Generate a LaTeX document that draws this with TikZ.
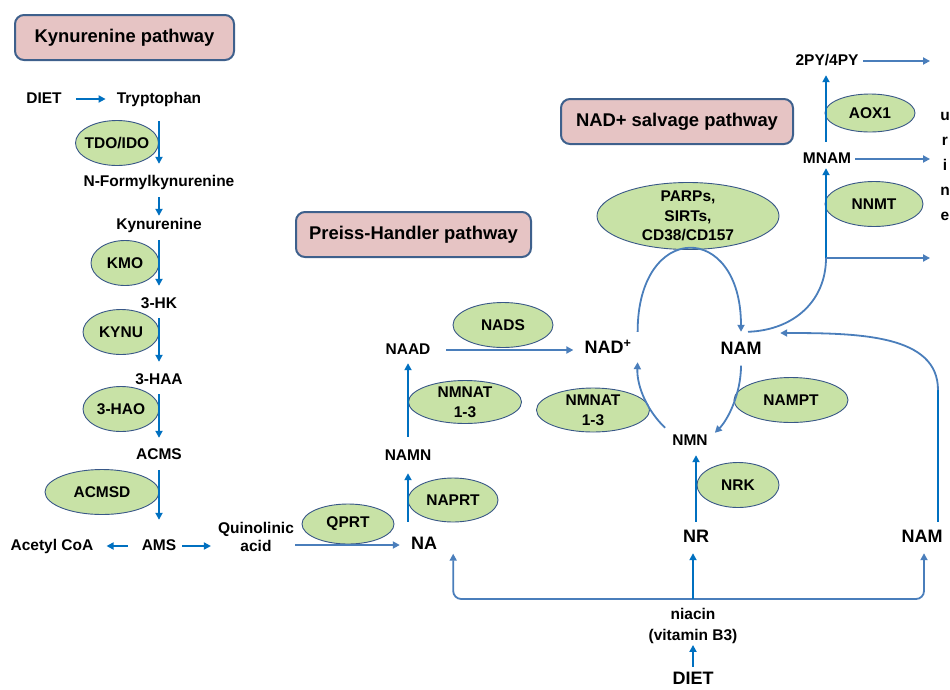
\documentclass[tikz,border=0pt]{standalone}
\usepackage{fontspec}
\setmainfont{Liberation Sans}
\usepackage{tikz}
\usetikzlibrary{shapes.geometric,arrows.meta,calc}
\definecolor{arrblue}{RGB}{0,112,192}
\definecolor{steelblue}{RGB}{74,126,187}
\definecolor{enzfill}{RGB}{200,226,166}
\definecolor{enzline}{RGB}{56,87,135}
\definecolor{boxfill}{RGB}{230,196,196}
\definecolor{boxline}{RGB}{62,96,140}

\tikzset{
  lbl/.style={inner sep=0pt, font=\fontsize{15.5}{19}\selectfont\bfseries, text height=12.5pt, text depth=3.5pt},
  biglbl/.style={inner sep=0pt, font=\fontsize{18}{21}\selectfont\bfseries, text height=13pt, text depth=4pt},
  txt/.style={inner sep=0pt, align=center, font=\fontsize{15.5}{18}\selectfont\bfseries},
  enz/.style={ellipse, draw=enzline, fill=enzfill, line width=0.9pt, inner xsep=-5pt, inner ysep=-3pt,
    align=center, font=\fontsize{15.5}{19.5}\selectfont\bfseries},
  pathbox/.style={draw=boxline, fill=boxfill, line width=2pt, rounded corners=9pt,
    font=\fontsize{18.4}{22}\selectfont\bfseries},
  arr/.style={draw=arrblue, line width=1.8pt, -{Triangle[length=7pt,width=7pt]}},
  sarr/.style={draw=steelblue, line width=1.8pt, -{Triangle[length=7pt,width=7pt]}},
  sline/.style={draw=steelblue, line width=1.8pt},
  bline/.style={draw=arrblue, line width=1.8pt}
}

\begin{document}
\begin{tikzpicture}[x=1pt, y=-1pt]
\useasboundingbox (0,0) rectangle (950,689);

% pathway titles
\node[pathbox, minimum width=219pt, minimum height=45pt] (kyntitle) at (124.5,37.5) {Kynurenine pathway};
\node[pathbox, minimum width=235pt, minimum height=45pt] (phtitle) at (413.5,234.5) {Preiss-Handler pathway};
\node[pathbox, minimum width=232pt, minimum height=45pt] (salvtitle) at (677,121.5) {NAD+ salvage pathway};

% Kynurenine pathway
\node[lbl] (diet1) at (44,99) {DIET};
\foreach \n/\y/\t in {trp/99/Tryptophan, nfk/182/N-Formylkynurenine, kyn/225/Kynurenine,
    hk/304/3-HK, haa/380/3-HAA, acms/455/ACMS, ams/546/AMS}
  \node[lbl] (\n) at (159,\y) {\t};
\node[lbl] (acoa) at (52,546) {Acetyl CoA};
\node[txt] (quin) at (256,537) {Quinolinic\\acid};
\foreach \n/\x/\y/\w/\t in {tdo/117/143/83/{TDO/IDO}, kmo/125/263/68/KMO, kynu/121/332/76/KYNU,
    hao/121/409/76/3-HAO, acmsd/102/492/114/ACMSD}
  \node[enz, minimum width=\w pt, minimum height=45pt] (\n) at (\x,\y) {\t};
\foreach \a/\b/\s/\e in {trp/nfk/14/10, nfk/kyn/7/1, kyn/hk/7/10, hk/haa/6/10, haa/acms/6/9, acms/ams/7/18}
  \draw[arr, shorten <=\s pt, shorten >=\e pt] (\a.south) -- (\b.north);
\draw[arr, shorten <=14pt, shorten >=11pt] (diet1.east) -- (trp.west);
\draw[arr, shorten <=14pt, shorten >=13pt] (ams.west) -- (acoa.east);
\draw[arr, shorten <=6pt, shorten >=7pt] (ams.east) -- (ams.east -| quin.west);

% Preiss-Handler pathway
\node[biglbl] (na) at (424,545) {NA};
\node[lbl] (namn) at (408,456) {NAMN};
\node[lbl] (naad) at (408,350) {NAAD};
\node[enz, minimum width=92pt, minimum height=40pt] (qprt) at (348,524) {QPRT};
\node[enz, minimum width=90pt, minimum height=44pt] (naprt) at (453,500) {NAPRT};
\node[enz, minimum width=113pt, minimum height=43pt] (nmnata) at (465,402) {NMNAT\\1-3};
\node[enz, minimum width=100pt, minimum height=45pt] (nads) at (503,325) {NADS};

% NAD+ salvage pathway
\node[biglbl] (nad) at (608,349) {NAD\textsuperscript{+}};
\node[biglbl] (nams) at (741,350) {NAM};
\node[lbl] (nmn) at (690,441) {NMN};
\node[biglbl] (nr) at (696,538) {NR};
\node[biglbl] (namr) at (922,538) {NAM};
\node[lbl] (mnam) at (827,159) {MNAM};
\node[lbl] (py) at (827,61) {2PY/4PY};
\node[txt, font=\fontsize{15.5}{25}\selectfont\bfseries] (urine) at (945,166) {u\\r\\i\\n\\e};
\node[txt, font=\fontsize{15.5}{21}\selectfont\bfseries] (niacin) at (693,626) {niacin\\(vitamin B3)};
\node[biglbl] (diet2) at (693,680) {DIET};
\node[enz, minimum width=182pt, minimum height=67pt] (parps) at (688,216) {PARPs,\\SIRTs,\\CD38/CD157};
\node[enz, minimum width=113pt, minimum height=44pt] (nmnatb) at (593,410) {NMNAT\\1-3};
\node[enz, minimum width=114pt, minimum height=45pt] (nampt) at (791,400) {NAMPT};
\node[enz, minimum width=82pt, minimum height=45pt] (nrk) at (738,485) {NRK};
\node[enz, minimum width=98pt, minimum height=45pt] (nnmt) at (874,204) {NNMT};
\node[enz, minimum width=90pt, minimum height=38pt] (aox) at (870,113) {AOX1};

\coordinate (fork) at (826,258);
\coordinate (bend) at (938,390);
\coordinate (split) at (693,599);

\draw[sarr, shorten <=1pt, shorten >=11pt] (quin.east |- na) -- (na.west);
\draw[arr, shorten <=14.5pt, shorten >=9pt] (na.north -| namn) -- (namn.south);
\draw[arr, shorten <=11pt, shorten >=5pt] (namn.north) -- (naad.south);
\draw[sarr, shorten <=15.5pt, shorten >=11pt] (naad.east) -- (naad.east -| nad.west);

\draw[sarr] ([shift={(6pt,8.5pt)}]nad.north east) .. controls +(0,-111) and +(0,-111) .. ([yshift=9.5pt]nams.north);
\draw[sline] ([shift={(7pt,9.5pt)}]nams.north) .. controls (795,330) and (826,300) .. (fork);
\draw[arr, shorten >=1pt] (fork) -- (fork |- mnam.south);
\draw[sarr, shorten >=10pt] (fork) -- (fork -| urine.west);
\draw[arr, shorten <=9pt, shorten >=6pt] (fork |- mnam.north) -- (fork |- py.south);
\draw[sarr, shorten <=4pt, shorten >=10pt] (mnam.east) -- (mnam.east -| urine.west);
\draw[sarr, shorten <=4.5pt, shorten >=10pt] (py.east) -- (py.east -| urine.west);

\draw[sarr, shorten <=7pt] (nams.south) .. controls +(0,35) and +(13,-13) .. ([xshift=7pt]nmn.north east);
\draw[sarr] ([shift={(-7pt,5pt)}]nmn.north west) .. controls +(-17,-16) and +(-1,25) .. ([shift={(6pt,-4.5pt)}]nad.south east);
\draw[arr, shorten <=7.5pt, shorten >=6pt] (nr.north) -- (nr.north |- nmn.south);
\draw[bline, shorten <=7.5pt] (bend |- namr.north) -- (bend);
\draw[sarr] (bend) .. controls +(0,-55) and +(80,0) .. ([shift={(18.5pt,17pt)}]nams.east);

% dietary niacin
\draw[sarr, rounded corners=8pt] (split) -| ([xshift=16pt]na.south east);
\draw[sarr, rounded corners=8pt] (split) -| ([shift={(2pt,-6.5pt)}]namr.south);
\draw[arr, shorten >=6.5pt] (split) -- (split |- nr.south);
\draw[arr, shorten <=4.5pt, shorten >=1pt] (diet2.north) -- (diet2.north |- niacin.south);
\end{tikzpicture}
\end{document}
